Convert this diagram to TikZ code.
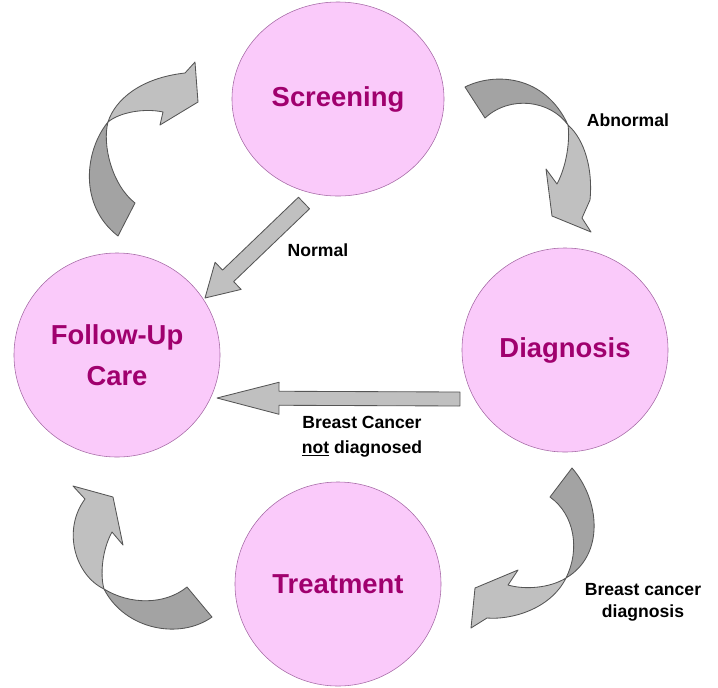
\documentclass[tikz,border=0pt]{standalone}
\usepackage{fontspec}
\setmainfont{Liberation Sans}
\usetikzlibrary{shapes.geometric,calc}
\definecolor{stagepink}{RGB}{250,202,250}
\definecolor{stageedge}{RGB}{165,105,165}
\definecolor{stagetext}{RGB}{160,0,110}
\definecolor{arrowlight}{RGB}{192,192,192}
\definecolor{arrowdark}{RGB}{163,163,163}
\definecolor{arrowedge}{RGB}{85,85,85}

\begin{document}
\begin{tikzpicture}[x=0.025cm,y=-0.025cm,stage/.style={draw=stageedge,fill=stagepink,ellipse,inner sep=0pt,minimum width=5.15cm,minimum height=5.1cm,text=stagetext,align=center,font=\fontsize{19.5}{29}\selectfont\bfseries},lbl/.style={align=center,font=\fontsize{12.5}{15.5}\selectfont\bfseries},light/.style={draw=arrowedge,fill=arrowlight,line width=0.6pt,line join=round},dark/.style={draw=arrowedge,fill=arrowdark,line width=0.6pt,line join=round}]
\useasboundingbox (0,0) rectangle (718,687);

\node[stage, minimum width=5.3cm, minimum height=4.85cm] (screen) at (338,99) {Screening};
\node[stage] (diag) at (565,350) {Diagnosis};
\node[stage] (treat) at (338,584) {Treatment};
\node[stage] (follow) at (117,355) {Follow-Up\\Care};

% cycle arrows
\draw[dark] (108,122) .. controls (85,150) and (78,205) .. (118,236) -- (135,203) .. controls (112,185) and (102,145) .. (108,122) -- cycle;
\draw[light] (108,122) .. controls (115,100) and (140,78) .. (185,73) -- (195,62) -- (198,102) -- (160,125) -- (163,112) .. controls (145,108) and (120,112) .. (108,122) -- cycle;
\draw[dark] (465,87) .. controls (495,72) and (545,75) .. (568,125) .. controls (550,100) and (510,95) .. (485,118) -- cycle;
\draw[light] (568,125) .. controls (585,140) and (593,170) .. (590,200) -- (582,218) -- (591,232) -- (552,216) -- (546,169) -- (557,184) .. controls (567,165) and (570,140) .. (568,125) -- cycle;
\draw[dark] (572,468) .. controls (600,500) and (605,555) .. (566,578) .. controls (580,550) and (575,515) .. (550,497) -- cycle;
\draw[light] (566,578) .. controls (550,588) and (525,590) .. (508,585) -- (518,570) -- (475,588) -- (471,628) -- (487,618) .. controls (510,620) and (550,610) .. (566,578) -- cycle;
\draw[dark] (104,589) .. controls (130,605) and (165,605) .. (187,587) -- (212,617) .. controls (180,640) and (125,630) .. (104,589) -- cycle;
\draw[light] (104,589) .. controls (75,575) and (62,530) .. (85,499) -- (73,486) -- (113,497) -- (123,545) -- (112,532) .. controls (102,550) and (100,575) .. (104,589) -- cycle;

% straight arrows
\coordinate (nrm-t) at (304,203);
\coordinate (nrm-h) at (205,298);
\coordinate (nd-t) at (460,399);
\coordinate (nd-h) at (217,398);
\foreach \a/\b/\sw/\hw/\hl in {nrm-t/nrm-h/0.2cm/0.47cm/0.8cm,nd-t/nd-h/0.175cm/0.4cm/1.55cm} {
  \coordinate (hb) at ($(\b)!\hl!(\a)$);
  \draw[light] ($(\a)!\sw!90:(\b)$) -- ($(hb)!\sw!90:(\b)$) -- ($(hb)!\hw!90:(\b)$) -- (\b) -- ($(hb)!\hw!-90:(\b)$) -- ($(hb)!\sw!-90:(\b)$) -- ($(\a)!\sw!-90:(\b)$) -- cycle;
}

% labels
\node[lbl] (abn) at (628,120) {Abnormal};
\node[lbl] (nrml) at (318,250) {Normal};
\node[lbl, font=\fontsize{12.5}{17.5}\selectfont\bfseries] (notdx) at (362,437) {Breast Cancer\\\underline{not} diagnosed};
\node[lbl] (dx) at (643,602) {Breast cancer\\diagnosis};
\end{tikzpicture}
\end{document}
